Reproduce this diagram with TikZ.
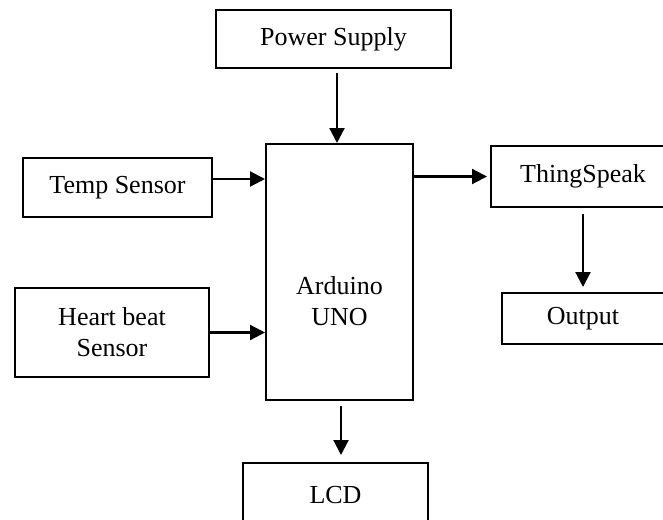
\documentclass[tikz,border=0pt]{standalone}
\usepackage{fontspec}
\setmainfont{Liberation Serif}
\usetikzlibrary{arrows.meta}
\tikzset{
  block/.style={
    rectangle, draw=black, line width=2pt, fill=white, inner sep=0pt,
    font=\fontsize{26}{31}\selectfont, align=center
  },
  flow arrow/.style={
    draw=black, line width=2.2pt, -{Triangle[length=15pt, width=15pt]}
  }
}

\begin{document}
\begin{tikzpicture}[x=1pt, y=-1pt]
  \useasboundingbox (0,0) rectangle (663,519);
  \clip (0,0) rectangle (663,519);

% ------------------------------------------------
% 中间：Arduino 主板 + 上方电源
% ------------------------------------------------
  \node[block, minimum width=235pt, minimum height=58pt]  (psu)     at (333.5,39)  {Power Supply};
  \node[block, minimum width=147pt, minimum height=256pt] (arduino) at (339.5,272)
    {\raisebox{-38pt}[0pt][0pt]{\begin{tabular}{@{}c@{}}Arduino\\UNO\end{tabular}}};
  \node[block, minimum width=185pt, minimum height=64pt]  (lcd)     at (335.5,495) {LCD};

% ------------------------------------------------
% 左侧：两个传感器
% ------------------------------------------------
  \node[block, minimum width=189pt, minimum height=59pt] (temp)  at (117.5,187.5) {Temp Sensor};
  \node[block, minimum width=194pt, minimum height=89pt] (heart) at (112,332.5)   {Heart beat\\Sensor};

% ------------------------------------------------
% 右侧：ThingSpeak -> Output
% ------------------------------------------------
  \node[block, minimum width=184pt, minimum height=61pt] (thing)  at (583,176.5) {ThingSpeak};
  \node[block, minimum width=162pt, minimum height=51pt] (output) at (583,318.5) {Output};

  % 连线
  \coordinate (psuout)  at ([xshift=3.5pt]psu.south);
  \coordinate (tempout) at ([yshift=8.5pt]temp.east);
  \coordinate (lcdin)   at ([xshift=1.5pt]arduino.south);
  \draw[flow arrow, shorten <=4pt] (psuout) -- (psuout |- arduino.north);
  \draw[flow arrow] (tempout) -- (tempout -| arduino.west);
  \draw[flow arrow] (heart.east) -- (heart.east -| arduino.west);
  \draw[flow arrow, shorten >=3pt] (arduino.east |- thing.west) -- (thing.west);
  \draw[flow arrow, shorten <=6pt, shorten >=5pt] (thing.south) -- (output.north);
  \draw[flow arrow, shorten <=5pt, shorten >=7pt] (lcdin) -- (lcdin |- lcd.north);
\end{tikzpicture}
\end{document}
